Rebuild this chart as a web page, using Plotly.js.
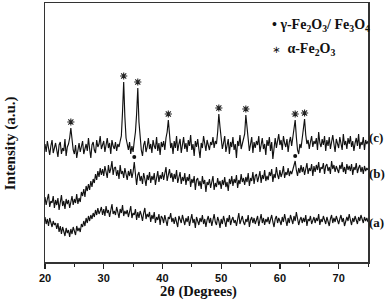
<!DOCTYPE html>
<html>
<head>
<meta charset="utf-8">
<script src="https://cdn.plot.ly/plotly-3.0.1.min.js"></script>
<style>html,body{margin:0;padding:0;background:#fff;}#chart{width:387px;height:300px;}</style>
</head>
<body>
<div id="chart"></div>
<script>
// 2θ grid: 20.0 .. 75.0 in 0.2° steps (276 points per pattern)
const twoThetaStart = 20.0;
const twoThetaStep = 0.2;

// Pattern (c) – offset intensity (a.u.)
const seriesC = [
118,110,121,113,107,116,122,109,114,119,
112,105,117,120,108,114,111,123,106,115,
118,124,134,122,112,108,117,104,113,119,
110,116,121,108,114,118,111,124,113,104,
117,120,112,109,122,115,118,126,113,116,
121,110,117,124,114,119,108,122,116,113,
120,111,118,115,121,126,150,180,145,124,
118,112,120,108,116,110,121,130,148,174,
140,122,112,106,117,121,110,115,124,113,
118,109,122,116,113,125,111,119,107,120,
115,121,112,124,130,142,126,114,119,108,
121,114,126,111,118,123,109,117,125,113,
119,110,122,116,127,112,118,106,121,115,
123,113,104,119,114,126,117,111,122,116,
112,120,117,125,114,121,118,130,148,135,
122,113,119,126,110,117,123,108,120,115,
125,112,118,104,121,116,127,113,119,124,
128,147,136,122,111,118,125,109,120,114,
121,117,126,110,119,124,113,118,107,122,
116,125,111,120,103,118,124,114,121,128,
117,122,112,126,119,115,123,110,120,125,
116,124,133,142,125,112,108,118,114,126,
134,143,127,118,122,113,120,126,115,121,
118,124,112,130,119,115,123,117,126,111,
122,116,125,113,120,127,118,110,123,119,
114,125,120,112,128,117,121,113,124,118,
126,115,121,111,119,124,116,128,113,120,
117,125,112,122,118,121
];

// Pattern (b)
const seriesB = [
65,57,63,68,55,61,59,66,54,62,
57,64,52,60,67,56,61,53,63,58,
62,54,60,66,57,63,59,68,58,64,
60,70,66,73,65,76,71,78,72,81,
75,83,79,88,82,91,85,94,87,93,
86,96,90,84,97,89,93,101,87,94,
95,86,92,83,97,88,91,84,94,89,
82,91,86,93,84,90,100,88,77,87,
90,81,86,78,89,83,76,87,82,90,
79,86,82,89,77,84,91,80,87,83,
90,82,88,95,81,87,93,84,89,80,
88,83,92,79,86,90,78,85,81,89,
77,85,81,88,75,83,79,86,72,82,
84,76,81,73,86,78,82,70,80,77,
83,74,80,86,72,79,75,84,77,81,
73,82,77,85,75,80,71,83,78,86,
76,83,79,87,74,82,78,88,80,84,
77,85,80,89,76,84,81,90,78,86,
88,80,85,91,79,87,83,92,81,86,
82,90,86,93,80,88,84,95,87,83,
92,85,89,96,84,90,87,94,86,91,
88,93,95,101,92,86,94,89,97,90,
95,87,93,99,88,94,91,98,86,96,
90,97,92,100,89,95,93,99,88,96,
98,91,95,88,101,93,97,90,96,92,
89,97,93,100,90,95,88,98,92,96,
91,98,87,95,92,99,89,94,97,90,
95,88,96,91,94,92
];

// Pattern (a)
const seriesA = [
45,38,43,36,44,40,35,41,37,39,
33,39,30,36,28,35,31,26,34,29,
32,25,33,28,35,30,27,36,31,34,
30,38,35,41,36,44,39,46,41,47,
43,49,45,52,47,54,48,51,55,47,
53,46,56,49,52,45,54,58,48,51,
47,55,50,44,53,49,57,46,51,48,
52,45,50,56,44,49,47,53,42,50,
44,51,47,41,49,54,43,48,45,50,
40,47,43,50,39,45,42,48,37,46,
44,39,47,41,36,45,43,49,40,44,
38,45,41,35,46,42,39,47,43,37,
44,40,46,36,42,48,39,43,34,45,
41,37,44,40,47,38,43,35,42,46,
39,44,36,42,48,40,37,45,41,34,
43,38,46,41,35,44,40,47,37,42,
45,39,42,36,44,49,38,41,46,40,
37,43,40,47,35,42,45,39,44,38,
42,46,36,41,48,39,44,37,43,40,
45,38,42,47,40,35,43,46,39,44,
41,37,45,40,48,42,36,44,39,47,
43,38,46,41,50,44,37,42,45,39,
44,40,47,36,43,41,46,38,42,45,
39,44,41,48,37,43,40,46,42,38,
45,41,36,43,47,39,44,40,46,42,
38,43,47,40,44,36,42,45,41,48,
42,37,44,40,46,43,38,45,41,47,
43,39,45,41,44,40
];

// Phase markers: α-Fe2O3 (*) on (c), γ-Fe2O3/Fe3O4 (•) on (b)
const alphaPeaks2T = [24.4, 33.4, 35.8, 41.0, 49.6, 54.2, 62.6, 64.2];
const alphaPeaksI  = [134, 180, 174, 142, 148, 147, 142, 143];
const gammaPeaks2T = [35.2, 62.6];
const gammaPeaksI  = [100, 101];

const seriesLabels = ['(a)', '(b)', '(c)'];
const labelLevels  = [40, 89, 125];

const markerGap = 6; // vertical gap between a peak top and its phase marker

const lineStyle = {color: '#111', width: 1.15};
const traces = [seriesA, seriesB, seriesC].map(function (s) {
  return {type: 'scatter', mode: 'lines', x0: twoThetaStart, dx: twoThetaStep,
          y: s, line: lineStyle, hoverinfo: 'skip', showlegend: false};
});
traces.push({type: 'scatter', mode: 'markers', x: alphaPeaks2T,
  y: alphaPeaksI.map(function (v) { return v + markerGap; }),
  marker: {symbol: 'asterisk-open', size: 6, color: '#222', line: {color: '#222', width: 1.1}},
  hoverinfo: 'skip', showlegend: false});
traces.push({type: 'scatter', mode: 'markers', x: gammaPeaks2T,
  y: gammaPeaksI.map(function (v) { return v + markerGap - 1; }),
  marker: {symbol: 'circle', size: 4, color: '#111', line: {width: 0}},
  hoverinfo: 'skip', showlegend: false});

const serif = 'Liberation Serif, Times New Roman, serif';
const annotations = [];
seriesLabels.forEach(function (t, i) {
  annotations.push({x: 1, y: labelLevels[i], xref: 'paper', yref: 'y', text: t, showarrow: false,
    xanchor: 'left', xshift: -1, font: {family: serif, size: 13, color: '#111', weight: 'bold'}});
});
annotations.push({x: 0.697, y: 0.915, xref: 'paper', yref: 'paper', xanchor: 'left', yanchor: 'middle',
  showarrow: false, text: '• γ-Fe<sub>2</sub>O<sub>3</sub>/ Fe<sub>3</sub>O<sub>4</sub>',
  font: {family: serif, size: 14, color: '#111', weight: 'bold'}});
annotations.push({x: 0.697, y: 0.82, xref: 'paper', yref: 'paper', xanchor: 'left', yanchor: 'middle',
  showarrow: false, text: '<span style="font-family:DejaVu Sans;font-weight:normal;font-size:10px">\u2217</span>  α-Fe<sub>2</sub>O<sub>3</sub>',
  font: {family: serif, size: 14, color: '#111', weight: 'bold'}});
// axis titles (placed as in the reference)
annotations.push({x: 0.474, y: -0.113, xref: 'paper', yref: 'paper', xanchor: 'center', yanchor: 'middle',
  showarrow: false, text: '2θ (Degrees)', font: {family: serif, size: 14.5, color: '#111', weight: 'bold'}});
annotations.push({x: -0.108, y: 0.459, xref: 'paper', yref: 'paper', xanchor: 'center', yanchor: 'middle',
  showarrow: false, textangle: -90, text: 'Intensity (a.u.)', font: {family: serif, size: 15, color: '#111', weight: 'bold'}});

const layout = {
  width: 387, height: 300,
  margin: {l: 45, r: 19, t: 3, b: 38},
  paper_bgcolor: '#fff', plot_bgcolor: '#fff',
  showlegend: false,
  xaxis: {
    range: [20, 75], dtick: 10, tick0: 20, ticks: 'outside', ticklen: 5, tickwidth: 1.2, tickcolor: '#222',
    minor: {dtick: 5, ticks: 'outside', ticklen: 3, tickwidth: 1, tickcolor: '#222'},
    showgrid: false, zeroline: false, showline: true, linecolor: '#333', linewidth: 1.5, mirror: true,
    tickfont: {family: 'Liberation Sans, Arial, sans-serif', size: 11, color: '#111', weight: 'bold'}
  },
  yaxis: {
    range: [0, 259], showticklabels: false, ticks: '', showgrid: false, zeroline: false,
    showline: true, linecolor: '#333', linewidth: 1.5, mirror: true
  },
  annotations: annotations
};

Plotly.newPlot('chart', traces, layout, {staticPlot: true, displayModeBar: false});
</script>
</body>
</html>
